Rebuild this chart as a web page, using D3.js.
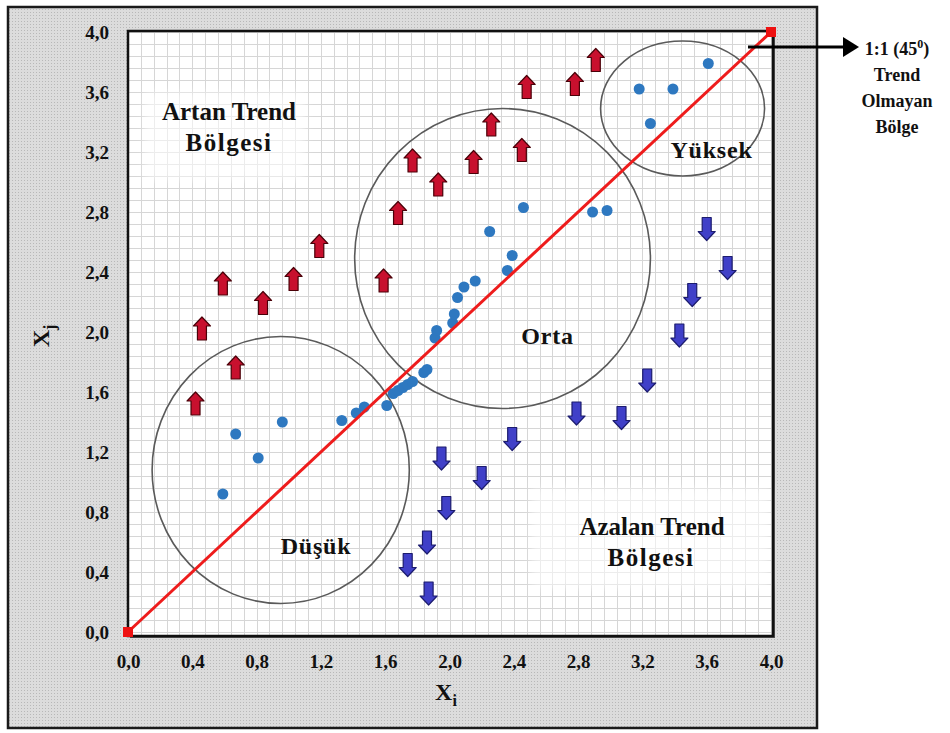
<!DOCTYPE html>
<html>
<head>
<meta charset="utf-8">
<script src="https://cdn.jsdelivr.net/npm/d3@7"></script>
<style>
  html, body { margin: 0; padding: 0; background: #ffffff; }
  svg { display: block; }
  text { font-family: "Liberation Serif", "Times New Roman", serif; font-weight: bold; fill: #111; }
</style>
</head>
<body>
<svg id="chart" width="950" height="733"></svg>
<script>
// Values of Xi (horizontal) and Xj (vertical) for points near the 1:1 line
const dotX = [0.59, 0.67, 0.81, 0.96, 1.33, 1.42, 1.47, 1.61, 1.65, 1.68, 1.71, 1.74, 1.77, 1.84, 1.86,
              1.91, 1.92, 2.02, 2.03, 2.05, 2.09, 2.16, 2.36, 2.39, 2.25, 2.46, 2.89, 2.98,
              3.18, 3.39, 3.61, 3.25];
const dotY = [0.92, 1.32, 1.16, 1.40, 1.41, 1.46, 1.50, 1.51, 1.59, 1.61, 1.63, 1.65, 1.67, 1.73, 1.75,
              1.96, 2.01, 2.06, 2.12, 2.23, 2.30, 2.34, 2.41, 2.51, 2.67, 2.83, 2.80, 2.81,
              3.62, 3.62, 3.79, 3.39];

// Increasing trend (upward arrows)
const upX = [0.42, 0.67, 0.46, 0.59, 0.84, 1.03, 1.19, 1.59, 1.68, 1.77, 1.93, 2.15, 2.26, 2.45, 2.48, 2.78, 2.91];
const upY = [1.52, 1.76, 2.02, 2.32, 2.19, 2.35, 2.57, 2.34, 2.79, 3.14, 2.98, 3.13, 3.38, 3.21, 3.63, 3.65, 3.81];

// Decreasing trend (downward arrows)
const downX = [1.74, 1.87, 1.86, 1.98, 1.95, 2.20, 2.39, 2.79, 3.07, 3.23, 3.43, 3.51, 3.60, 3.73];
const downY = [0.45, 0.26, 0.60, 0.83, 1.16, 1.03, 1.29, 1.46, 1.43, 1.68, 1.98, 2.25, 2.69, 2.43];

// Axis ticks
const xTicks = [0, 0.4, 0.8, 1.2, 1.6, 2.0, 2.4, 2.8, 3.2, 3.6, 4.0];
const yTicks = [0, 0.4, 0.8, 1.2, 1.6, 2.0, 2.4, 2.8, 3.2, 3.6, 4.0];

// Low / middle / high groups (ellipses, in data units)
const zoneNames = ["Düşük", "Orta", "Yüksek"];
const zoneCX = [0.95, 2.33, 3.45];
const zoneCY = [1.08, 2.49, 3.49];
const zoneRX = [0.80, 0.92, 0.51];
const zoneRY = [0.89, 1.00, 0.45];
const zoneLabelX = [1.17, 2.61, 3.63];
const zoneLabelY = [0.52, 1.92, 3.16];

const svg = d3.select("#chart");
const x = d3.scaleLinear().domain([0, 4]).range([128, 771]);
const y = d3.scaleLinear().domain([0, 4]).range([632, 32]);
const fmt = v => d3.format(".1f")(v).replace(".", ",");

// dotted gray texture for the frame
const defs = svg.append("defs");
const pat = defs.append("pattern").attr("id", "dots").attr("width", 3).attr("height", 3)
  .attr("patternUnits", "userSpaceOnUse");
pat.append("rect").attr("width", 3).attr("height", 3).attr("fill", "#dcdcdc");
pat.append("rect").attr("width", 1).attr("height", 1).attr("fill", "#b8b8b8");
const blur = defs.append("filter").attr("id", "soft").attr("x", "-10%").attr("y", "-10%")
  .attr("width", "120%").attr("height", "120%");
blur.append("feGaussianBlur").attr("stdDeviation", 4);

// outer frame
svg.append("rect").attr("x", 8).attr("y", 7).attr("width", 809).attr("height", 721)
  .attr("fill", "url(#dots)").attr("stroke", "#1a1a1a").attr("stroke-width", 2.5);

// plot box
const px0 = x(0), px1 = x(4) + 2, py0 = y(4) - 1, py1 = y(0) + 4;
svg.append("rect").attr("x", px0 + 2).attr("y", py0 + 2).attr("width", px1 - px0).attr("height", py1 - py0)
  .attr("fill", "#555");
svg.append("rect").attr("x", px0).attr("y", py0).attr("width", px1 - px0).attr("height", py1 - py0)
  .attr("fill", "#ffffff");

// fine grid
const gridStep = d3.range(0, 4.0001, 0.08);
const grid = svg.append("g").attr("stroke", "#d6d6d6").attr("stroke-width", 1);
grid.selectAll("line.v").data(gridStep).join("line").attr("class", "v")
  .attr("x1", d => Math.round(x(d)) + 0.5).attr("x2", d => Math.round(x(d)) + 0.5)
  .attr("y1", py0).attr("y2", py1);
grid.selectAll("line.h").data(gridStep).join("line").attr("class", "h")
  .attr("y1", d => Math.round(y(d)) + 0.5).attr("y2", d => Math.round(y(d)) + 0.5)
  .attr("x1", px0).attr("x2", px1);

// soft white boxes behind the region titles
svg.append("rect").attr("x", 145).attr("y", 92).attr("width", 160).attr("height", 88)
  .attr("fill", "#ffffff").attr("opacity", 0.55).attr("filter", "url(#soft)");
svg.append("rect").attr("x", 532).attr("y", 488).attr("width", 238).attr("height", 100)
  .attr("fill", "#ffffff").attr("opacity", 0.55).attr("filter", "url(#soft)");

svg.append("rect").attr("x", px0).attr("y", py0).attr("width", px1 - px0).attr("height", py1 - py0)
  .attr("fill", "none").attr("stroke", "#111").attr("stroke-width", 2.5);

// axes (tick labels only)
const xAxis = d3.axisBottom(x).tickValues(xTicks).tickFormat(fmt).tickSize(0).tickPadding(0);
const gx = svg.append("g").attr("transform", `translate(0,${py1 + 25})`).call(xAxis);
gx.select(".domain").remove();
gx.selectAll("text").attr("font-size", 19).attr("dy", "0.35em").attr("fill", "#111")
  .style("font-family", "'Liberation Serif', serif").style("font-weight", "bold");

const yAxis = d3.axisLeft(y).tickValues(yTicks).tickFormat(fmt).tickSize(0).tickPadding(0);
const gy = svg.append("g").attr("transform", `translate(${px0 - 19},0)`).call(yAxis);
gy.select(".domain").remove();
gy.selectAll("text").attr("font-size", 19).attr("fill", "#111")
  .style("font-family", "'Liberation Serif', serif").style("font-weight", "bold");

// axis titles
const xt = svg.append("text").attr("x", 446).attr("y", 700).attr("font-size", 24).attr("text-anchor", "middle");
xt.append("tspan").text("X");
xt.append("tspan").attr("font-size", 16).attr("dy", 6).text("i");
const yt = svg.append("text").attr("transform", "translate(49,336) rotate(-90)")
  .attr("font-size", 24).attr("text-anchor", "middle");
yt.append("tspan").text("X");
yt.append("tspan").attr("font-size", 16).attr("dy", 6).text("j");

// group ellipses
svg.append("g").selectAll("ellipse").data(zoneNames).join("ellipse")
  .attr("cx", (d, i) => x(zoneCX[i])).attr("cy", (d, i) => y(zoneCY[i]))
  .attr("rx", (d, i) => x(zoneRX[i]) - x(0)).attr("ry", (d, i) => y(0) - y(zoneRY[i]))
  .attr("fill", "none").attr("stroke", "#5a5a5a").attr("stroke-width", 1.6);

// block arrow shapes
const upPath = "M0,-12 L8.5,-3 L4.5,-3 L4.5,11 L-4.5,11 L-4.5,-3 L-8.5,-3 Z";
const downPath = "M0,12 L8.5,3 L4.5,3 L4.5,-11 L-4.5,-11 L-4.5,3 L-8.5,3 Z";

svg.append("g").selectAll("path").data(upX).join("path")
  .attr("d", upPath)
  .attr("transform", (d, i) => `translate(${x(d)},${y(upY[i])})`)
  .attr("fill", "#c8102e").attr("stroke", "#4a0008").attr("stroke-width", 1.2)
  .attr("stroke-linejoin", "round");

svg.append("g").selectAll("path").data(downX).join("path")
  .attr("d", downPath)
  .attr("transform", (d, i) => `translate(${x(d)},${y(downY[i])})`)
  .attr("fill", "#4040c8").attr("stroke", "#1c1c6e").attr("stroke-width", 1.2)
  .attr("stroke-linejoin", "round");

// observations
svg.append("g").selectAll("circle").data(dotX).join("circle")
  .attr("cx", d => x(d)).attr("cy", (d, i) => y(dotY[i])).attr("r", 5.5)
  .attr("fill", "#2e78c0");

// 1:1 line
svg.append("line").attr("x1", x(0)).attr("y1", y(0)).attr("x2", x(4)).attr("y2", y(4))
  .attr("stroke", "#ee1c1c").attr("stroke-width", 3);
svg.append("g").selectAll("rect").data([0, 4]).join("rect")
  .attr("x", d => x(d) - 5).attr("y", d => y(d) - 5).attr("width", 10).attr("height", 10)
  .attr("fill", "#ee1111");

// group labels
svg.append("g").selectAll("text").data(zoneNames).join("text")
  .attr("x", (d, i) => x(zoneLabelX[i])).attr("y", (d, i) => y(zoneLabelY[i]))
  .attr("text-anchor", "middle").attr("font-size", 24).attr("letter-spacing", 0.8).text(d => d);

// region titles
const artan = svg.append("text").attr("text-anchor", "middle").attr("font-size", 25);
artan.append("tspan").attr("x", 229).attr("y", 120).text("Artan Trend");
artan.append("tspan").attr("x", 229).attr("y", 151).attr("letter-spacing", 1.5).text("Bölgesi");
const azalan = svg.append("text").attr("text-anchor", "middle").attr("font-size", 25);
azalan.append("tspan").attr("x", 652).attr("y", 535).text("Azalan Trend");
azalan.append("tspan").attr("x", 651).attr("y", 566).attr("letter-spacing", 1.5).text("Bölgesi");

// callout for the 1:1 line
const ay = 47;
svg.append("line").attr("x1", 748).attr("y1", ay).attr("x2", 846).attr("y2", ay)
  .attr("stroke", "#000").attr("stroke-width", 3);
svg.append("path").attr("d", `M843,${ay - 10} L859,${ay} L843,${ay + 10} Z`).attr("fill", "#000");
const note = svg.append("text").attr("text-anchor", "middle").attr("font-size", 18);
const l1 = note.append("tspan").attr("x", 897).attr("y", 55);
l1.append("tspan").text("1:1 (45");
l1.append("tspan").attr("font-size", 12).attr("dy", -7).text("0");
l1.append("tspan").attr("dy", 7).text(")");
note.append("tspan").attr("x", 897).attr("y", 81).text("Trend");
note.append("tspan").attr("x", 897).attr("y", 107).text("Olmayan");
note.append("tspan").attr("x", 897).attr("y", 133).text("Bölge");
</script>
</body>
</html>
